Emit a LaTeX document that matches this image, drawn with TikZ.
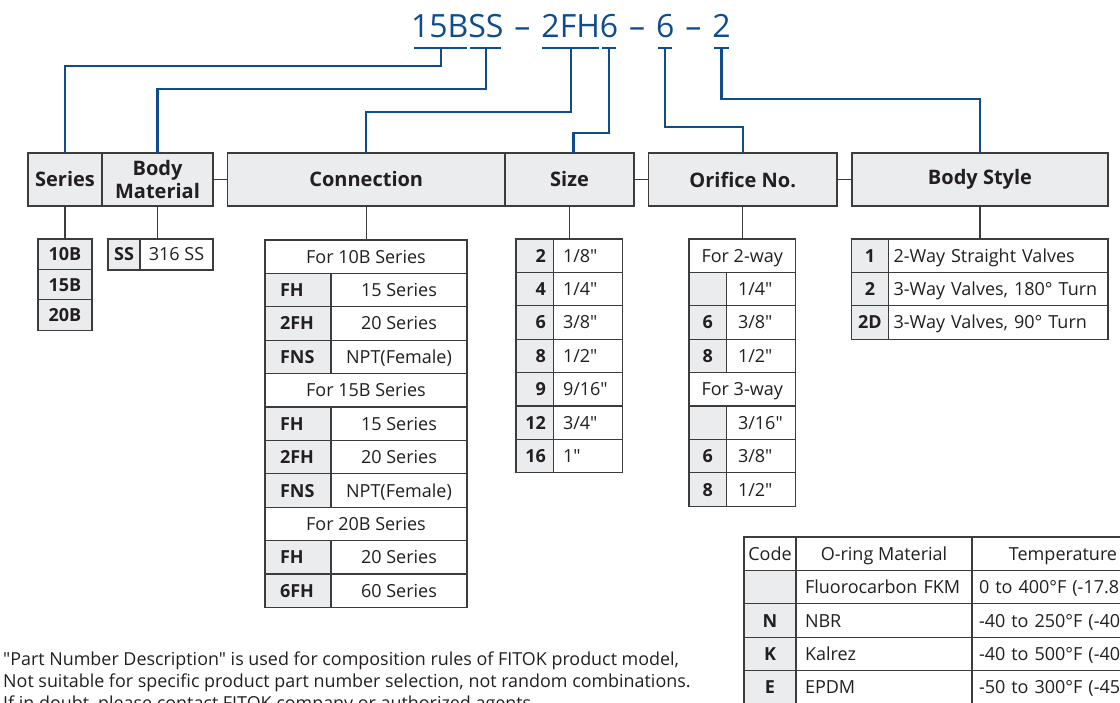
\documentclass[tikz,border=0pt]{standalone}
\usepackage{fontspec}
\setmainfont{Open Sans}[Ligatures=TeXOff]
\usepackage{tikz}
\usetikzlibrary{positioning}
\definecolor{partblue}{RGB}{14, 76, 142}
\definecolor{cellgray}{RGB}{235, 236, 238}
\definecolor{rulegray}{RGB}{60, 60, 60}
\definecolor{inkgray}{RGB}{35, 31, 32}
\newcommand{\tabfont}{\fontsize{18}{20}\selectfont}
\newcommand{\hdrfont}{\fontsize{20}{23}\selectfont\bfseries}

\begin{document}
\begin{tikzpicture}[
    x=1pt, y=-1pt,
    ttl/.style={font=\fontsize{32}{36}\selectfont, text=partblue, inner sep=0pt, outer sep=0pt, text height=23pt, text depth=0pt},
    dashsep/.style={ttl, inner xsep=11pt},
    uline/.style={draw=partblue, line width=2.3pt},
    wire/.style={draw=partblue, line width=2.3pt},
    link/.style={draw=rulegray, line width=1.3pt},
    hdr/.style={draw=rulegray, line width=1.3pt, fill=cellgray, outer sep=0pt, inner sep=0pt, minimum height=53pt, align=center, font=\hdrfont, text=inkgray},
    cell/.style={draw=rulegray, line width=1.3pt, fill=white, outer sep=0pt, inner ysep=0pt, inner xsep=2pt, minimum height=33.4pt, text height=13pt, text depth=0pt, font=\tabfont, text=inkgray},
    code/.style={cell, fill=cellgray, font=\tabfont\bfseries},
    sercode/.style={code, minimum width=54pt, minimum height=30.4pt},
    cnspan/.style={cell, minimum width=202pt},
    cncode/.style={code, inner xsep=15pt, text width=36pt, align=left},
    cnval/.style={cell, minimum width=136pt},
    szcode/.style={code, inner xsep=7.5pt, text width=22.5pt, align=right},
    szval/.style={cell, inner xsep=9.5pt, text width=50pt, align=left},
    orspan/.style={cell, minimum width=106.5pt},
    orcode/.style={code, minimum width=37.5pt},
    orval/.style={cell, inner xsep=11.5pt, text width=46pt, align=left},
    bscode/.style={code, minimum width=37.2pt},
    bsval/.style={cell, inner xsep=5pt, text width=209.4pt, align=left},
    ogcode/.style={code, minimum width=52pt},
    ogmat/.style={cell, inner xsep=9pt, text width=158pt, align=left},
    ogtemp/.style={cell, inner xsep=7pt, text width=168pt, align=left},
    note/.style={font=\fontsize{17.9}{22}\selectfont, text=inkgray, inner sep=0pt, anchor=base west}
]
\useasboundingbox (0,0) rectangle (1120,703);
\clip (0,0) rectangle (1120,703);

% Part number
\node[ttl, anchor=base west] (t15b) at (411,38) {15B};
\node[ttl, right=0pt of t15b] (tss) {SS};
\node[dashsep, right=0pt of tss] (d1) {–};
\node[ttl, right=0pt of d1] (t2fh) {2FH};
\node[ttl, right=0pt of t2fh] (t6a) {6};
\node[dashsep, right=0pt of t6a] (d2) {–};
\node[ttl, right=0pt of d2] (t6b) {6};
\node[dashsep, right=0pt of t6b] (d3) {–};
\node[ttl, right=0pt of d3] (t2) {2};

% Underlines
\draw[uline] ([xshift=3pt,yshift=-10pt]t15b.south west) -- ([xshift=-1pt,yshift=-10pt]t15b.south east);
\draw[uline] ([xshift=2pt,yshift=-10pt]tss.south west) -- ([xshift=-2pt,yshift=-10pt]tss.south east);
\draw[uline] ([xshift=1pt,yshift=-10pt]t2fh.south west) -- ([xshift=-1pt,yshift=-10pt]t2fh.south east);
\draw[uline] ([xshift=2pt,yshift=-10pt]t6a.south west) -- ([xshift=-2pt,yshift=-10pt]t6a.south east);
\draw[uline] ([xshift=2pt,yshift=-10pt]t6b.south west) -- ([xshift=-2pt,yshift=-10pt]t6b.south east);
\draw[uline] ([xshift=2pt,yshift=-10pt]t2.south west) -- ([xshift=-2pt,yshift=-10pt]t2.south east);
\coordinate (u15b) at ([xshift=1pt,yshift=-10pt]t15b.south);
\coordinate (uss) at ([yshift=-10pt]tss.south);
\coordinate (u2fh) at ([yshift=-10pt]t2fh.south);
\coordinate (u6a) at ([yshift=-10pt]t6a.south);
\coordinate (u6b) at ([yshift=-10pt]t6b.south);
\coordinate (u2) at ([yshift=-10pt]t2.south);

% Headers
\node[hdr, minimum width=74pt, anchor=north west] (series) at (28,153) {Series};
\node[hdr, minimum width=111pt, right=0pt of series] (bodymat) {Body\\Material};
\node[hdr, minimum width=277.5pt, right=14.5pt of bodymat] (conn) {Connection};
\node[hdr, minimum width=129pt, right=0pt of conn] (size) {Size};
\node[hdr, minimum width=188.5pt, right=14.5pt of size] (orifice) {Orifice No.};
\node[hdr, minimum width=256pt, right=15pt of orifice] (bstyle) {Body Style};

% Series
\node[sercode, below=33pt of series] (s10) {10B};
\node[sercode, below=0pt of s10] (s15) {15B};
\node[sercode, below=0pt of s15] (s20) {20B};

% Body material
\node[code, minimum width=32pt, minimum height=31pt, anchor=north west] (sscode) at (108,239) {SS};
\node[cell, minimum width=73pt, minimum height=31pt, right=0pt of sscode] (ssval) {316 SS};

% Connection
\node[cnspan, anchor=north west] (cn1) at (265,240) {For 10B Series};
\node[cncode, anchor=north west] (cn2) at (cn1.south west) {FH};
\node[cnval, right=0pt of cn2] (cn2v) {15 Series};
\node[cncode, below=0pt of cn2] (cn3) {2FH};
\node[cnval, right=0pt of cn3] (cn3v) {20 Series};
\node[cncode, below=0pt of cn3] (cn4) {FNS};
\node[cnval, right=0pt of cn4] (cn4v) {NPT(Female)};
\node[cnspan, anchor=north west] (cn5) at (cn4.south west) {For 15B Series};
\node[cncode, anchor=north west] (cn6) at (cn5.south west) {FH};
\node[cnval, right=0pt of cn6] (cn6v) {15 Series};
\node[cncode, below=0pt of cn6] (cn7) {2FH};
\node[cnval, right=0pt of cn7] (cn7v) {20 Series};
\node[cncode, below=0pt of cn7] (cn8) {FNS};
\node[cnval, right=0pt of cn8] (cn8v) {NPT(Female)};
\node[cnspan, anchor=north west] (cn9) at (cn8.south west) {For 20B Series};
\node[cncode, anchor=north west] (cn10) at (cn9.south west) {FH};
\node[cnval, right=0pt of cn10] (cn10v) {20 Series};
\node[cncode, below=0pt of cn10] (cn11) {6FH};
\node[cnval, right=0pt of cn11] (cn11v) {60 Series};

% Size
\node[szcode, anchor=north west] (sz1) at (516,239) {2};
\node[szval, right=0pt of sz1] (sz1v) {1/8"};
\node[szcode, below=0pt of sz1] (sz2) {4};
\node[szval, right=0pt of sz2] (sz2v) {1/4"};
\node[szcode, below=0pt of sz2] (sz3) {6};
\node[szval, right=0pt of sz3] (sz3v) {3/8"};
\node[szcode, below=0pt of sz3] (sz4) {8};
\node[szval, right=0pt of sz4] (sz4v) {1/2"};
\node[szcode, below=0pt of sz4] (sz5) {9};
\node[szval, right=0pt of sz5] (sz5v) {9/16"};
\node[szcode, below=0pt of sz5] (sz6) {12};
\node[szval, right=0pt of sz6] (sz6v) {3/4"};
\node[szcode, below=0pt of sz6] (sz7) {16};
\node[szval, right=0pt of sz7] (sz7v) {1"};

% Orifice
\node[orspan, anchor=north west] (or1) at (689,239) {For 2-way};
\node[orcode, anchor=north west] (or2) at (or1.south west) {};
\node[orval, right=0pt of or2] (or2v) {1/4"};
\node[orcode, below=0pt of or2] (or3) {6};
\node[orval, right=0pt of or3] (or3v) {3/8"};
\node[orcode, below=0pt of or3] (or4) {8};
\node[orval, right=0pt of or4] (or4v) {1/2"};
\node[orspan, anchor=north west] (or5) at (or4.south west) {For 3-way};
\node[orcode, anchor=north west] (or6) at (or5.south west) {};
\node[orval, right=0pt of or6] (or6v) {3/16"};
\node[orcode, below=0pt of or6] (or7) {6};
\node[orval, right=0pt of or7] (or7v) {3/8"};
\node[orcode, below=0pt of or7] (or8) {8};
\node[orval, right=0pt of or8] (or8v) {1/2"};

% Body style
\node[bscode, anchor=north west] (bs1) at (851.4,239) {1};
\node[bsval, right=0pt of bs1] (bs1v) {2-Way Straight Valves};
\node[bscode, below=0pt of bs1] (bs2) {2};
\node[bsval, right=0pt of bs2] (bs2v) {3-Way Valves, 180° Turn};
\node[bscode, below=0pt of bs2] (bs3) {2D};
\node[bsval, right=0pt of bs3] (bs3v) {3-Way Valves, 90° Turn};

% O-ring
\node[cell, minimum width=52pt, anchor=north west] (og0) at (744,537) {Code};
\node[cell, minimum width=176pt, right=0pt of og0] (og0m) {O-ring Material};
\node[cell, minimum width=182pt, right=0pt of og0m] (og0t) {Temperature};
\node[ogcode, below=0pt of og0] (og1) {};
\node[ogmat, right=0pt of og1] (og1m) {Fluorocarbon FKM};
\node[ogtemp, right=0pt of og1m] (og1t) {0 to 400°F (-17.8};
\node[ogcode, below=0pt of og1] (og2) {N};
\node[ogmat, right=0pt of og2] (og2m) {NBR};
\node[ogtemp, right=0pt of og2m] (og2t) {-40 to 250°F (-40};
\node[ogcode, below=0pt of og2] (og3) {K};
\node[ogmat, right=0pt of og3] (og3m) {Kalrez};
\node[ogtemp, right=0pt of og3m] (og3t) {-40 to 500°F (-40};
\node[ogcode, below=0pt of og3] (og4) {E};
\node[ogmat, right=0pt of og4] (og4m) {EPDM};
\node[ogtemp, right=0pt of og4m] (og4t) {-50 to 300°F (-45};

% Blue leaders
\draw[wire] (u15b) -- ++(0,18) -| (series);
\draw[wire] (uss) -- ++(0,41) -| (bodymat);
\draw[wire] (u2fh) -- ++(0,64) -| (conn);
\draw[wire] (u6a) -- ++(0,85) -| ([xshift=4pt]size.north);
\draw[wire] (u6b) -- ++(0,79) -| (orifice);
\draw[wire] (u2) -- ++(0,51) -| (bstyle);

% Gray links
\draw[link] (bodymat) -- (conn);
\draw[link] (size) -- (orifice);
\draw[link] (orifice) -- (bstyle);
\draw[link] (series) -- (s10);
\draw[link] (bodymat) -- (bodymat |- sscode.north);
\draw[link] (conn) -- (conn |- cn1.north);
\draw[link] (size) -- (size |- sz1.north);
\draw[link] (orifice) -- (orifice |- or1.north);
\draw[link] (bstyle) -- (bstyle |- bs1.north);

% Note
\node[note] (n1) at (3,665) {"Part Number Description" is used for composition rules of FITOK product model,};
\node[note] (n2) at (3,687) {Not suitable for specific product part number selection, not random combinations.};
\node[note] (n3) at (3,709) {If in doubt, please contact FITOK company or authorized agents};
\end{tikzpicture}
\end{document}
